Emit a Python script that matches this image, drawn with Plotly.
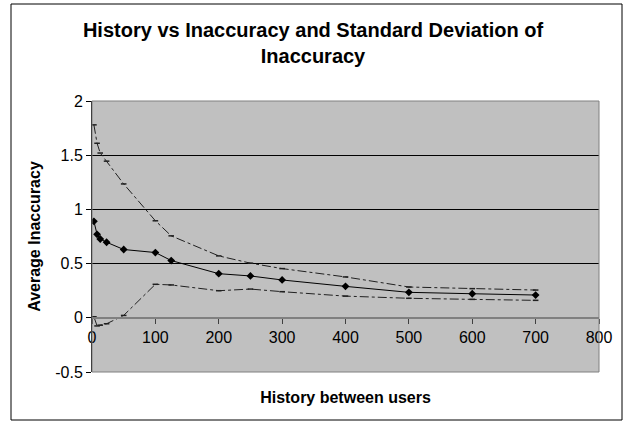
import plotly.graph_objects as go

history = [3, 8, 13, 23, 50, 100, 125, 200, 250, 300, 400, 500, 600, 700]
mean_inacc = [0.89, 0.77, 0.727, 0.697, 0.63, 0.602, 0.528, 0.407, 0.386, 0.349, 0.29, 0.235, 0.222, 0.21]
upper = [1.78, 1.61, 1.52, 1.445, 1.235, 0.895, 0.756, 0.571, 0.504, 0.454, 0.377, 0.284, 0.269, 0.256]
lower = [0.01, -0.075, -0.068, -0.055, 0.022, 0.309, 0.303, 0.25, 0.265, 0.241, 0.2, 0.18, 0.17, 0.161]

x_ticks = [0, 100, 200, 300, 400, 500, 600, 700, 800]
y_ticks = [-0.5, 0, 0.5, 1, 1.5, 2]
y_labels = ["-0.5", "0", "0.5", "1", "1.5", "2"]

FONT = "Liberation Sans, Arial, sans-serif"

fig = go.Figure()
for ys in (upper, lower):
    fig.add_trace(go.Scatter(
        x=history, y=ys, mode="lines+markers",
        line=dict(color="#202020", width=1, dash="dashdot"),
        marker=dict(symbol="line-ew-open", size=4, line=dict(color="black", width=1.5)),
        showlegend=False))
fig.add_trace(go.Scatter(
    x=history, y=mean_inacc, mode="lines+markers",
    line=dict(color="black", width=1),
    marker=dict(symbol="diamond", size=6, color="black"),
    showlegend=False))

L, R, T, B = 92, 27, 101, 50
W, H = 626, 422
pw, ph = W - L - R, H - T - B

def px_x(px):
    return (px - L) / pw

def px_y(py):
    return (H - B - py) / ph

fig.update_layout(
    width=W, height=H,
    margin=dict(l=L, r=R, t=T, b=B),
    paper_bgcolor="white",
    plot_bgcolor="#C0C0C0",
    font=dict(family=FONT, size=16, color="black"),
    title=dict(text="<b>History vs Inaccuracy and Standard Deviation of<br>Inaccuracy</b>",
               x=0.5, xanchor="center", y=1 - 37 / H, yanchor="top",
               font=dict(family=FONT, size=20, color="black")),
    xaxis=dict(range=[0, 800], tickvals=x_ticks, ticktext=[str(v) for v in x_ticks],
               anchor="free", position=0.2, showgrid=False, zeroline=False,
               showline=True, linecolor="#808080", linewidth=2,
               ticks="outside", ticklen=5, tickcolor="#404040", tickwidth=1,
               tickfont=dict(family=FONT, size=16),
               title=dict(text="<b>History between users</b>", standoff=46,
                          font=dict(family=FONT, size=16)),
               automargin=False),
    yaxis=dict(range=[-0.5, 2], tickvals=y_ticks, ticktext=y_labels,
               showgrid=True, gridcolor="black", gridwidth=1, zeroline=False,
               showline=True, linecolor="black", linewidth=1,
               ticks="outside", ticklen=5, tickcolor="black",
               tickfont=dict(family=FONT, size=16),
               title=dict(text="<b>Average Inaccuracy</b>", standoff=10,
                          font=dict(family=FONT, size=16)),
               automargin=False),
    shapes=[
        dict(type="rect", xref="paper", yref="paper", x0=0, x1=1, y0=0, y1=1,
             line=dict(color="#808080", width=1), layer="above"),
        dict(type="rect", xref="paper", yref="paper",
             x0=px_x(11), x1=px_x(622), y0=px_y(420), y1=px_y(4),
             line=dict(color="black", width=1), layer="below"),
    ],
)

fig.write_html("out.html", config={"displayModeBar": False},
               post_script="document.body.style.margin='0';document.body.style.overflow='hidden';")
